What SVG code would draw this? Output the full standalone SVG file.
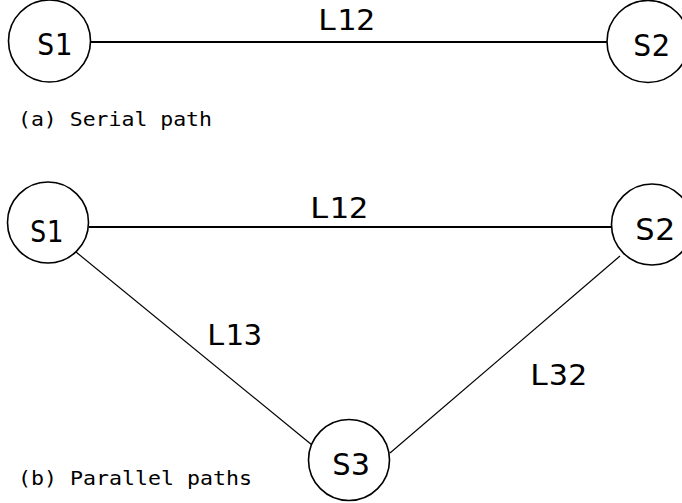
<svg xmlns="http://www.w3.org/2000/svg" width="682" height="503" viewBox="0 0 682 503">
<style>
.node{fill:#fff;stroke:#000;stroke-width:1.6}
.nt{font-family:"DejaVu Sans Mono","Liberation Mono",monospace;font-size:30px;fill:#000}
.lt{font-family:"DejaVu Sans Mono","Liberation Mono",monospace;font-size:29px;fill:#000}
.cap{font-family:"DejaVu Sans Mono","Liberation Mono",monospace;font-size:20px;fill:#000}
.h{stroke:#000;stroke-width:2;fill:none}
.d{stroke:#000;stroke-width:1.2;fill:none}
</style>
<rect width="682" height="503" fill="#fff"/>
<g id="connectors">
<line class="h" x1="91" y1="42" x2="607" y2="42"/>
<line class="h" x1="89" y1="227" x2="611" y2="227"/>
<line class="d" x1="76" y1="252" x2="312" y2="445"/>
<line class="d" x1="390" y1="453" x2="620" y2="256"/>
</g>
<g id="labels">
<text class="lt" x="318" y="30" textLength="57" lengthAdjust="spacingAndGlyphs">L12</text>
<text class="lt" x="310" y="218" textLength="58" lengthAdjust="spacingAndGlyphs">L12</text>
<text class="lt" x="207" y="345" textLength="55" lengthAdjust="spacingAndGlyphs">L13</text>
<text class="lt" x="530" y="385" textLength="57" lengthAdjust="spacingAndGlyphs">L32</text>
<text class="cap" x="18" y="126" textLength="194" lengthAdjust="spacingAndGlyphs">(a) Serial path</text>
<text class="cap" x="18" y="485" textLength="234" lengthAdjust="spacingAndGlyphs">(b) Parallel paths</text>
</g>
<g id="a-S1">
<circle class="node" cx="49.5" cy="41" r="41"/>
<text class="nt" x="37" y="55" textLength="35" lengthAdjust="spacingAndGlyphs">S1</text>
</g>
<g id="a-S2">
<circle class="node" cx="648" cy="41.5" r="41"/>
<text class="nt" x="633" y="56" textLength="37" lengthAdjust="spacingAndGlyphs">S2</text>
</g>
<g id="b-S1">
<circle class="node" cx="48" cy="222.5" r="40.5"/>
<text class="nt" x="30" y="242" textLength="33" lengthAdjust="spacingAndGlyphs">S1</text>
</g>
<g id="b-S2">
<circle class="node" cx="652" cy="224.5" r="40.5"/>
<text class="nt" x="635" y="240" textLength="40" lengthAdjust="spacingAndGlyphs">S2</text>
</g>
<g id="b-S3">
<circle class="node" cx="349" cy="460" r="40.5"/>
<text class="nt" x="332" y="475" textLength="38" lengthAdjust="spacingAndGlyphs">S3</text>
</g>
</svg>
